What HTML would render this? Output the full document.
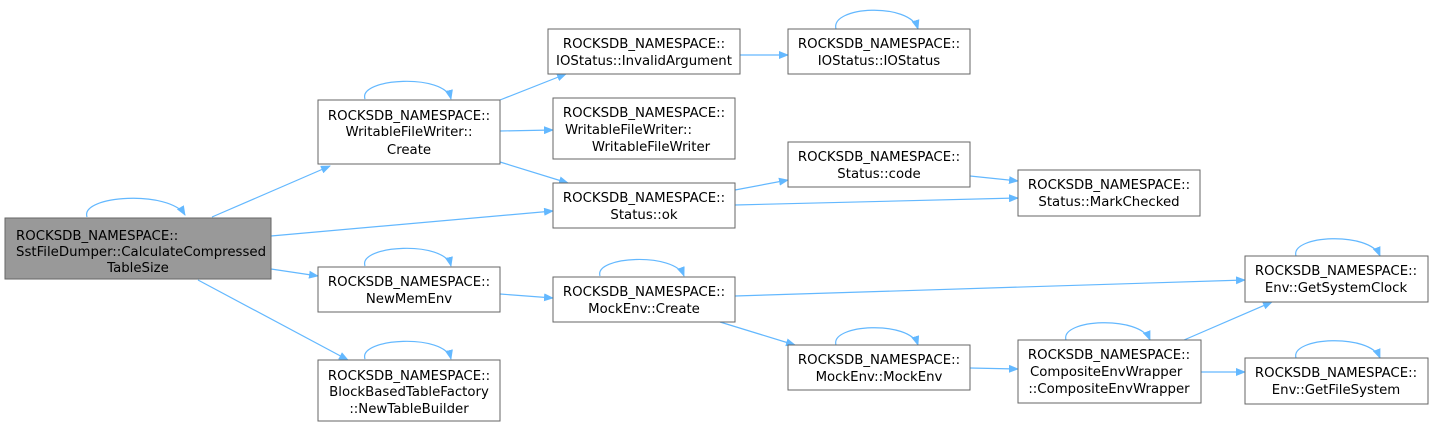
<!DOCTYPE html>
<html><head><meta charset="utf-8"><style>
body{margin:0;background:#fff}
text{font-family:"DejaVu Sans","Liberation Sans",sans-serif;font-size:13.3px;fill:#000}
.n{fill:#fff;stroke:#666;stroke-width:1}
.e{fill:none;stroke:#63b8ff;stroke-width:1.2}
</style></head><body>
<svg width="1434" height="428" viewBox="0 0 1434 428" xmlns="http://www.w3.org/2000/svg">
<defs><marker id="m" markerWidth="10" markerHeight="8" refX="9" refY="4" orient="auto" markerUnits="userSpaceOnUse"><path d="M0,0 L10,4 L0,8 z" fill="#63b8ff"/></marker></defs>
<g class="e" marker-end="url(#m)">
<path d="M87,217 C80,195 170,190 185,215"/>
<path d="M212,217 L330,166"/>
<path d="M271,236 L553,211"/>
<path d="M271,269 L318,276"/>
<path d="M198,280 L348,360"/>
<path d="M365,99 C358,78 445,73 451,99"/>
<path d="M365,266 C358,245 445,240 451,266"/>
<path d="M365,359 C358,338 445,333 451,359"/>
<path d="M500,100 L566,74"/>
<path d="M500,131 L553,130"/>
<path d="M500,162 L568,183"/>
<path d="M500,294 L553,298"/>
<path d="M735,55 L788,55"/>
<path d="M836,29 C830,6 910,2 918,29"/>
<path d="M735,190 L788,180"/>
<path d="M735,205 L1018,198"/>
<path d="M970,176 L1018,181"/>
<path d="M600,276 C594,256 675,252 684,276"/>
<path d="M735,296 L1245,280"/>
<path d="M720,322 L795,345"/>
<path d="M836,345 C830,324 910,320 918,345"/>
<path d="M970,368 L1018,369"/>
<path d="M1066,340 C1060,319 1140,315 1150,340"/>
<path d="M1184,340 L1272,302"/>
<path d="M1201,372 L1245,372"/>
<path d="M1296,256 C1290,235 1370,231 1380,256"/>
<path d="M1296,358 C1290,337 1370,333 1380,358"/>
</g>
<rect x="5" y="218" width="266" height="61" fill="#999" stroke="#666"/>
<text x="16" y="240">ROCKSDB_NAMESPACE::</text>
<text x="16" y="256">SstFileDumper::CalculateCompressed</text>
<text x="138" y="272" text-anchor="middle">TableSize</text>

<rect class="n" x="318" y="100" width="182" height="64"/>
<text x="409" y="120" text-anchor="middle">ROCKSDB_NAMESPACE::</text>
<text x="409" y="136" text-anchor="middle">WritableFileWriter::</text>
<text x="409" y="154" text-anchor="middle">Create</text>

<rect class="n" x="318" y="267" width="182" height="45"/>
<text x="409" y="286" text-anchor="middle">ROCKSDB_NAMESPACE::</text>
<text x="409" y="303" text-anchor="middle">NewMemEnv</text>

<rect class="n" x="318" y="360" width="182" height="61"/>
<text x="409" y="380" text-anchor="middle">ROCKSDB_NAMESPACE::</text>
<text x="409" y="396" text-anchor="middle">BlockBasedTableFactory</text>
<text x="409" y="413" text-anchor="middle">::NewTableBuilder</text>

<rect class="n" x="548" y="29" width="192" height="45"/>
<text x="644" y="48" text-anchor="middle">ROCKSDB_NAMESPACE::</text>
<text x="644" y="65" text-anchor="middle">IOStatus::InvalidArgument</text>

<rect class="n" x="553" y="98" width="182" height="61"/>
<text x="644" y="117" text-anchor="middle">ROCKSDB_NAMESPACE::</text>
<text x="565" y="134">WritableFileWriter::</text>
<text x="651" y="151" text-anchor="middle">WritableFileWriter</text>

<rect class="n" x="553" y="183" width="182" height="45"/>
<text x="644" y="202" text-anchor="middle">ROCKSDB_NAMESPACE::</text>
<text x="644" y="219" text-anchor="middle">Status::ok</text>

<rect class="n" x="553" y="277" width="182" height="45"/>
<text x="644" y="296" text-anchor="middle">ROCKSDB_NAMESPACE::</text>
<text x="644" y="313" text-anchor="middle">MockEnv::Create</text>

<rect class="n" x="788" y="29" width="182" height="45"/>
<text x="879" y="48" text-anchor="middle">ROCKSDB_NAMESPACE::</text>
<text x="879" y="65" text-anchor="middle">IOStatus::IOStatus</text>

<rect class="n" x="788" y="142" width="182" height="45"/>
<text x="879" y="161" text-anchor="middle">ROCKSDB_NAMESPACE::</text>
<text x="879" y="178" text-anchor="middle">Status::code</text>

<rect class="n" x="788" y="345" width="182" height="45"/>
<text x="879" y="364" text-anchor="middle">ROCKSDB_NAMESPACE::</text>
<text x="879" y="381" text-anchor="middle">MockEnv::MockEnv</text>

<rect class="n" x="1018" y="170" width="182" height="46"/>
<text x="1109" y="189" text-anchor="middle">ROCKSDB_NAMESPACE::</text>
<text x="1109" y="206" text-anchor="middle">Status::MarkChecked</text>

<rect class="n" x="1018" y="340" width="183" height="63"/>
<text x="1109" y="359" text-anchor="middle">ROCKSDB_NAMESPACE::</text>
<text x="1030" y="376">CompositeEnvWrapper</text>
<text x="1109" y="393" text-anchor="middle">::CompositeEnvWrapper</text>

<rect class="n" x="1245" y="256" width="183" height="46"/>
<text x="1336" y="275" text-anchor="middle">ROCKSDB_NAMESPACE::</text>
<text x="1336" y="292" text-anchor="middle">Env::GetSystemClock</text>

<rect class="n" x="1245" y="358" width="183" height="46"/>
<text x="1336" y="377" text-anchor="middle">ROCKSDB_NAMESPACE::</text>
<text x="1336" y="394" text-anchor="middle">Env::GetFileSystem</text>
</svg>
</body></html>
